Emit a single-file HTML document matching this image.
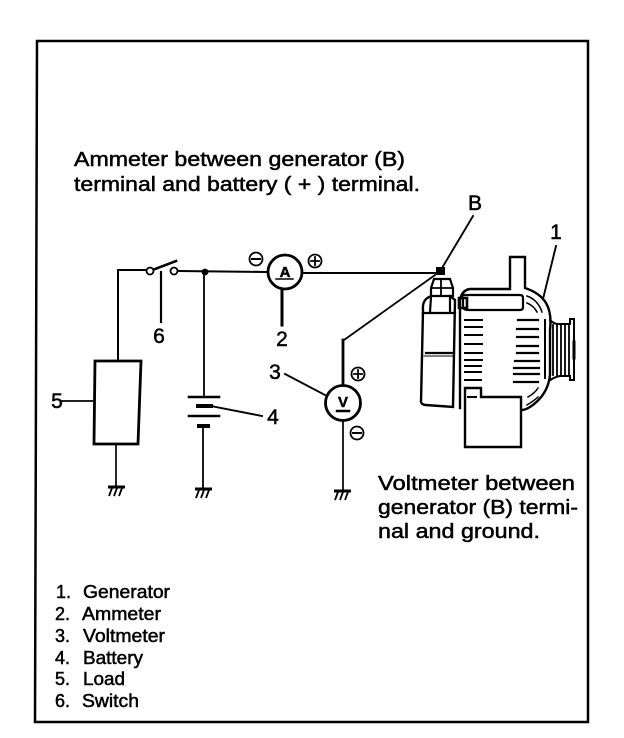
<!DOCTYPE html>
<html><head><meta charset="utf-8"><style>html,body{margin:0;padding:0;background:#fff}svg{display:block}text{font-family:"Liberation Sans",sans-serif;fill:#000;stroke:#000;stroke-width:.5}</style></head>
<body><svg width="624" height="738" viewBox="0 0 624 738" xmlns="http://www.w3.org/2000/svg">
<defs><g id="gnd" fill="none" stroke="#000"><path d="M-8 0H9" stroke-width="3"/><path d="M-4 1L-7 9M1 1L-2 9M6 1L3 9" stroke-width="1.8"/></g></defs>
<g fill="none" stroke="#000" stroke-linecap="square">
<path d="M37 41H588V722H35Z" stroke-width="2.5"/>
<path d="M150 270H118V361" stroke-width="2"/>
<path d="M95 361H141L138 444H94Z" stroke-width="2.8"/>
<path d="M62 401H94M116 444V486" stroke-width="1.7"/>
<path d="M150 271L176 261" stroke-width="2.6"/>
<circle cx="150" cy="271" r="3.5" stroke-width="1.8" fill="#fff"/><circle cx="174" cy="271" r="3.5" stroke-width="1.8" fill="#fff"/>
<path d="M161 272V322" stroke-width="2.2"/>
<path d="M178 271L267 272M303 273L437 273" stroke-width="2.1"/>
<path d="M204 272V395M203 426V488" stroke-width="1.8"/>
<path d="M189 397H219M189 416H219" stroke-width="2.6"/>
<path d="M198 406H211M199 426H208" stroke-width="4"/>
<path d="M211 406L262 416" stroke-width="1.9"/>
<circle cx="285" cy="272" r="17" stroke-width="2.8"/>
<path d="M282 290V325" stroke-width="3"/>
<path d="M276 279H293" stroke-width="1.5"/>
<circle cx="256" cy="259" r="6.5" stroke-width="1.8"/><path d="M252 259H260" stroke-width="2"/>
<circle cx="315" cy="261" r="6.5" stroke-width="1.8"/><path d="M311 261H319M315 257V265" stroke-width="1.8"/>
<path d="M344 340L435 275" stroke-width="1.8"/>
<path d="M343 340V385" stroke-width="2.8"/>
<circle cx="343" cy="403" r="17.5" stroke-width="2.8"/>
<path d="M337 411H349" stroke-width="2.5"/>
<path d="M343 421V490" stroke-width="1.7"/>
<circle cx="358" cy="374" r="6.5" stroke-width="1.8"/><path d="M354 374H362M358 370V378" stroke-width="1.8"/>
<circle cx="357" cy="433" r="6.5" stroke-width="1.8"/><path d="M353 433H361" stroke-width="2"/>
<path d="M285 374L325 395" stroke-width="1.9"/>
<path d="M473 216L442 268" stroke-width="1.9"/>
<path d="M556 246L543 299" stroke-width="1.9"/>
<!-- regulator/terminal -->
<path d="M434 279H450L453 288V296H431V288Z" stroke-width="2.2"/>
<path d="M441 279V296M432 288H452" stroke-width="1.8"/>
<path d="M429 297Q422 300 423 310L421 402Q422 405 426 405L453 407L455 300L450 296" stroke-width="2.4"/>
<path d="M431 297L430 312M450 297L450 312M423 313H455M426 353H454" stroke-width="2.2"/>
<path d="M424 356H454" stroke-width="1"/>
<!-- housing -->
<path d="M460 408L460 300Q462 290 470 289H510V257H525V288Q540 293 546 303Q552 313 550 330V375Q548 395 530 407Q525 410 522 410" stroke-width="2.4"/>
<path d="M462 295H520Q523 295 523 298V307Q523 310 520 310H468Q463 310 463 306V300Z" stroke-width="2.2"/>
<path d="M459 298H467V308H459Z" stroke-width="2.6"/>
<path d="M527 296Q538 300 542 312M527 303Q534 306 537 312M528 397Q535 393 538 388M527 405Q535 400 538 397" stroke-width="1.5"/>
<path d="M465 388H481V397H521V447H465Z" stroke-width="2.4"/>
<path d="M468 397H476" stroke-width="2"/>
<!-- fins -->
<path d="M465 320H482M465 327H482M465 335H482M465 344H482M465 353H482M465 360H482M465 366H481M465 372H481M465 380H481" stroke-width="2"/>
<path d="M518 320H538M517 329H538M517 337H538M517 346H538M517 353H538M515 361H539M514 368H539M514 374H539M514 382H538" stroke-width="2.2"/>
<!-- pulley -->
<path d="M545 320V378" stroke-width="2"/>
<path d="M550 320Q555 325 560 324H570V319H574V380H570V376H560Q554 377 549 381" stroke-width="2"/>
<path d="M553 325V375M557 325V375M561 325V375M565 325V375M569 325V375" stroke-width="1.8"/>
<path d="M574 342V358" stroke-width="3"/>
</g>
<rect x="436" y="267" width="9" height="8" fill="#000"/>
<circle cx="205" cy="272" r="3.4" fill="#000"/>
<use href="#gnd" x="116" y="487"/><use href="#gnd" x="203" y="489"/><use href="#gnd" x="342" y="491"/>
<text x="74" y="166" font-size="20" textLength="331" lengthAdjust="spacingAndGlyphs">Ammeter between generator (B)</text>
<text x="74" y="191" font-size="20" textLength="346" lengthAdjust="spacingAndGlyphs">terminal and battery ( + ) terminal.</text>
<text x="378" y="490" font-size="20" textLength="197" lengthAdjust="spacingAndGlyphs">Voltmeter between</text>
<text x="378" y="514" font-size="20" textLength="200" lengthAdjust="spacingAndGlyphs">generator (B) termi-</text>
<text x="378" y="538" font-size="20" textLength="162" lengthAdjust="spacingAndGlyphs">nal and ground.</text>
<g font-size="18">
<text x="56" y="598">1.</text><text x="83" y="598" textLength="87" lengthAdjust="spacingAndGlyphs">Generator</text>
<text x="55" y="620">2.</text><text x="82" y="620" textLength="79" lengthAdjust="spacingAndGlyphs">Ammeter</text>
<text x="55" y="642">3.</text><text x="83" y="642" textLength="82" lengthAdjust="spacingAndGlyphs">Voltmeter</text>
<text x="55" y="664">4.</text><text x="83" y="664" textLength="60" lengthAdjust="spacingAndGlyphs">Battery</text>
<text x="55" y="685">5.</text><text x="83" y="685" textLength="42" lengthAdjust="spacingAndGlyphs">Load</text>
<text x="55" y="707">6.</text><text x="82" y="707" textLength="57" lengthAdjust="spacingAndGlyphs">Switch</text>
</g>
<g font-size="21" text-anchor="middle">
<text x="475" y="210">B</text><text x="556" y="239">1</text><text x="282" y="346">2</text><text x="275" y="379">3</text><text x="273" y="424">4</text><text x="57" y="408">5</text><text x="159" y="343">6</text>
</g>
<text x="285" y="277" font-size="15" font-weight="bold" text-anchor="middle">A</text>
<text x="343" y="407" font-size="15" font-weight="bold" text-anchor="middle">V</text>
</svg></body></html>
